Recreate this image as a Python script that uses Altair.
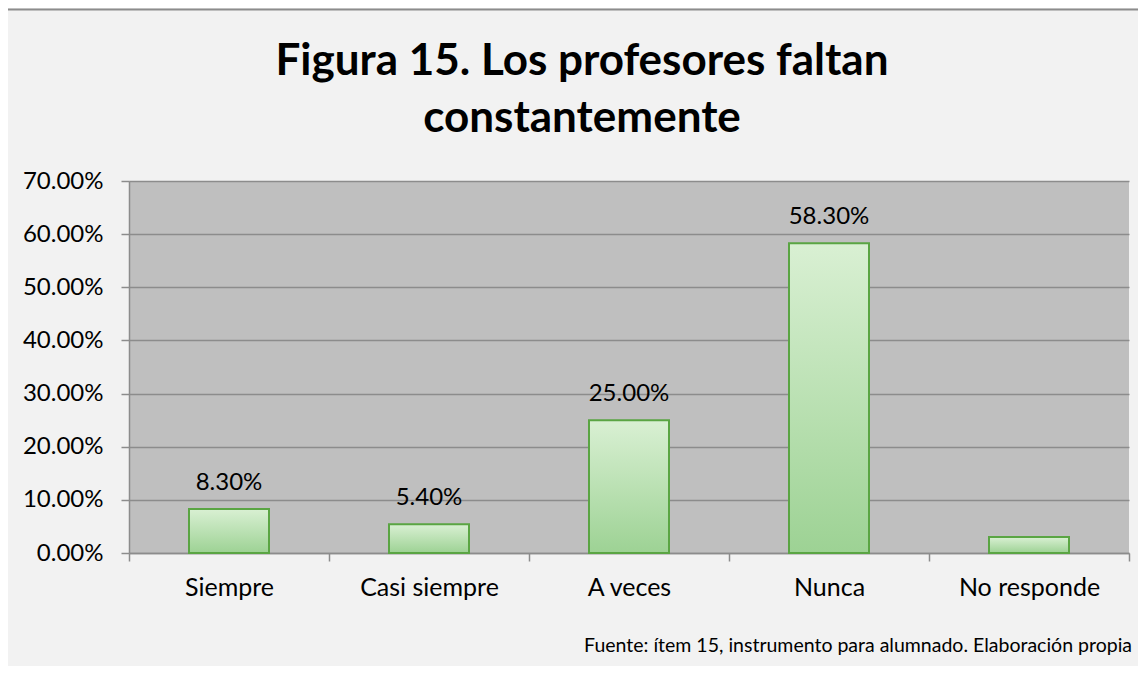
import altair as alt
import pandas as pd

categories = ["Siempre", "Casi siempre", "A veces", "Nunca", "No responde"]
values = [0.083, 0.054, 0.25, 0.583, 0.03]
labels = ["8.30%", "5.40%", "25.00%", "58.30%", ""]
y_ticks = [0.0, 0.1, 0.2, 0.3, 0.4, 0.5, 0.6, 0.7]
title_lines = ["Figura 15. Los profesores faltan", "constantemente"]
source_text = ["Fuente: ítem 15, instrumento para alumnado. Elaboración propia"]

FONT = "Lato"
df = pd.DataFrame({"cat": categories, "val": values, "lab": labels})

gradient = alt.Gradient(
    gradient="linear",
    stops=[alt.GradientStop(color="#d9f0d3", offset=0),
           alt.GradientStop(color="#9dd294", offset=1)],
    x1=0, x2=0, y1=0, y2=1,
)

x_enc = alt.X(
    "cat:N", sort=categories, title=None,
    scale=alt.Scale(paddingInner=0, paddingOuter=0),
    axis=alt.Axis(labelAngle=0, tickBand="extent", tickSize=8, tickColor="#8c8c8c",
                  domainColor="#8c8c8c", domainWidth=1.5, tickWidth=1.5,
                  labelFont=FONT, labelFontSize=25, labelColor="#000000",
                  labelBaseline="alphabetic", labelPadding=34, grid=False),
)
y_enc = alt.Y(
    "val:Q", title=None,
    scale=alt.Scale(domain=[0, 0.7], nice=False),
    axis=alt.Axis(values=y_ticks, format=".2%", tickSize=8, tickColor="#8c8c8c",
                  domainColor="#8c8c8c", domainWidth=1.5, tickWidth=1.5,
                  gridColor="#8c8c8c", gridWidth=1.3,
                  labelFont=FONT, labelFontSize=24, labelColor="#000000",
                  labelPadding=18, labelBaseline="middle"),
)

bars = alt.Chart(df).mark_bar(
    fill=gradient, stroke="#5aa543", strokeWidth=2,
    width=alt.RelativeBandSize(0.4),
).encode(x=x_enc, y=y_enc)

texts = alt.Chart(df).mark_text(
    font=FONT, fontSize=24, color="#000000", baseline="alphabetic", dy=-19,
).encode(x=alt.X("cat:N", sort=categories), y="val:Q", text="lab:N")

title_df = pd.DataFrame({"t": title_lines, "yy": [-106, -49]})
title = alt.Chart(title_df).mark_text(
    font=FONT, fontSize=44, fontWeight="bold", color="#000000",
    baseline="alphabetic", align="center",
).encode(x=alt.value(453), y=alt.Y("yy:Q", scale=None), text="t:N")

src = alt.Chart(pd.DataFrame({"t": source_text})).mark_text(
    font=FONT, fontSize=19.5, color="#000000", baseline="alphabetic", align="right",
).encode(x=alt.value(1003), y=alt.value(471), text="t:N")

border_df = pd.DataFrame({"a": [0]})
left_border = alt.Chart(border_df).mark_rule(color="#8c8c8c", strokeWidth=2).encode(
    x=alt.value(-122), y=alt.value(-172), y2=alt.value(500))
top_border = alt.Chart(border_df).mark_rule(color="#8c8c8c", strokeWidth=2).encode(
    x=alt.value(-122), x2=alt.value(1010), y=alt.value(-171.5))

chart = alt.layer(bars, texts, title, src, left_border, top_border).properties(
    width=1000, height=372,
    autosize=alt.AutoSizeParams(type="none"),
    padding={"left": 121, "top": 173, "right": 9, "bottom": 113},
    background="#f2f2f2",
).configure_view(fill="#bfbfbf", stroke=None)

chart.save("out.html", embed_options={"renderer": "svg", "actions": False})
